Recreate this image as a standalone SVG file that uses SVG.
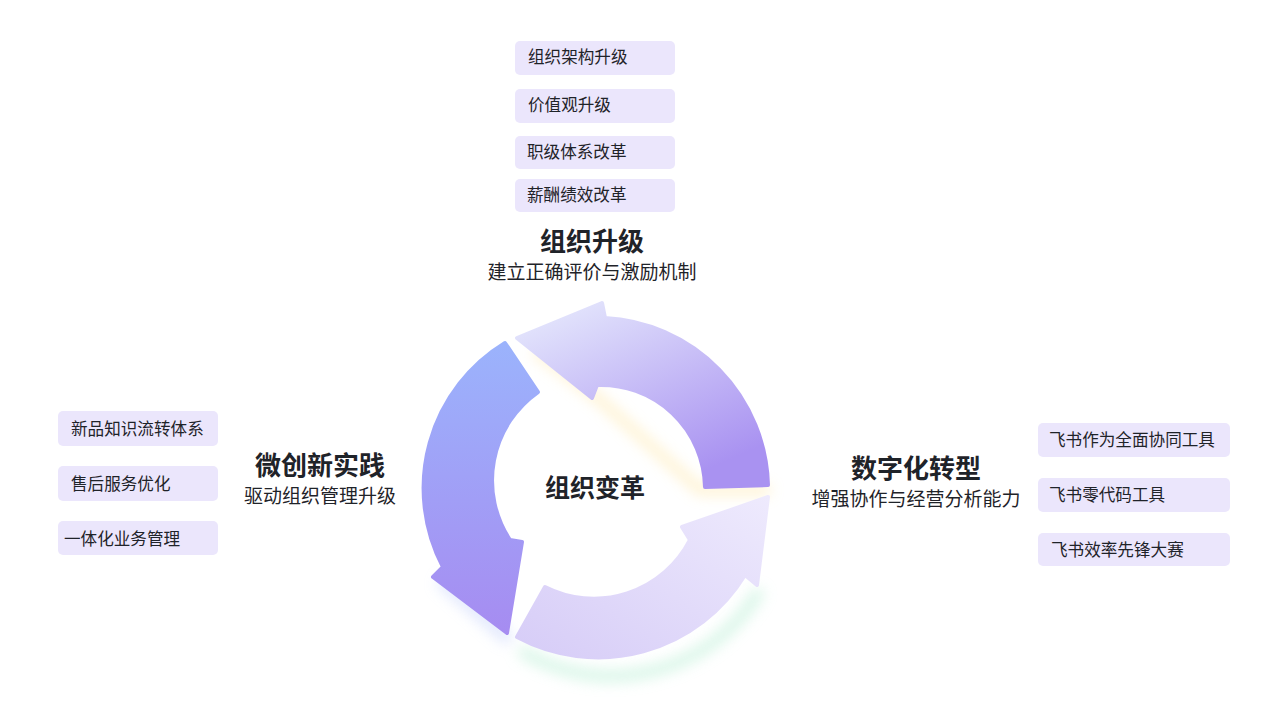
<svg xmlns="http://www.w3.org/2000/svg" width="1280" height="713" viewBox="0 0 1280 713">
<style>
.box{fill:#ebe6fc}
.t{font-family:"Noto Sans CJK SC",sans-serif;font-size:16.6px;fill:#1f2329}
.h{font-family:"Noto Sans CJK SC",sans-serif;font-size:26px;font-weight:bold;fill:#1f2329;text-anchor:middle}
.c{font-family:"Noto Sans CJK SC",sans-serif;font-size:25px;font-weight:bold;fill:#1f2329;text-anchor:middle}
.s{font-family:"Noto Sans CJK SC",sans-serif;font-size:19px;fill:#1f2329;text-anchor:middle}
</style>
<defs>
<linearGradient id="gl" x1="0" y1="0" x2="0" y2="1"><stop offset="0" stop-color="#9bb3fc"/><stop offset="1" stop-color="#a68cf1"/></linearGradient>
<linearGradient id="gt" x1="0" y1="0" x2="0.6" y2="1"><stop offset="0" stop-color="#e9edfd"/><stop offset="1" stop-color="#a992f1"/></linearGradient>
<linearGradient id="gb" x1="0" y1="1" x2="1" y2="0"><stop offset="0" stop-color="#d6ccf7"/><stop offset="1" stop-color="#eeeafd"/></linearGradient>
<filter id="blur" x="-20%" y="-20%" width="140%" height="140%"><feGaussianBlur stdDeviation="7"/></filter>
</defs>
<rect width="1280" height="713" fill="#fff"/>
<g id="glow" filter="url(#blur)" opacity="0.6">
<path d="M535,350 L600,400 L700,490 L770,490" fill="none" stroke="#ffe9b0" stroke-width="10"/>
<path d="M520,650 A172 172 0 0 0 760,590" fill="none" stroke="#bff0d8" stroke-width="12"/>
<path d="M440,580 L510,640" fill="none" stroke="#c8d4fb" stroke-width="12"/>
</g>
<g id="connectors">
<path id="arrow-left" d="M505,343 A170 170 0 0 0 443,567 L433,577 L507,633 L522,542 L510,540 A108 108 0 0 1 538,392 Z" fill="url(#gl)" stroke="url(#gl)" stroke-width="4" stroke-linejoin="round"/>
<path id="arrow-top" d="M768,485 A172 172 0 0 0 605,318 L602,303 L517,338 L592,398 L597,385 A104 104 0 0 1 705,487 Z" fill="url(#gt)" stroke="url(#gt)" stroke-width="4" stroke-linejoin="round"/>
<path id="arrow-bottom" d="M517,637 A172 172 0 0 0 745,575 L757,585 L768,497 L682,527 L690,540 A108 108 0 0 1 545,587 Z" fill="url(#gb)" stroke="url(#gb)" stroke-width="4" stroke-linejoin="round"/>
</g>
<g id="center"><text class="c" x="595" y="497">组织变革</text></g>
<g id="org">
<text class="h" x="592" y="251">组织升级</text>
<text class="s" x="592" y="279">建立正确评价与激励机制</text>
<rect class="box" x="515" y="41" width="160" height="34" rx="5"/><text class="t" x="528" y="63">组织架构升级</text>
<rect class="box" x="515" y="89" width="160" height="34" rx="5"/><text class="t" x="528" y="111">价值观升级</text>
<rect class="box" x="515" y="136" width="160" height="33" rx="5"/><text class="t" x="527" y="158">职级体系改革</text>
<rect class="box" x="515" y="179" width="160" height="33" rx="5"/><text class="t" x="527" y="201">薪酬绩效改革</text>
</g>
<g id="micro">
<text class="h" x="320" y="475">微创新实践</text>
<text class="s" x="320" y="503">驱动组织管理升级</text>
<rect class="box" x="58" y="411" width="160" height="35" rx="5"/><text class="t" x="71" y="435">新品知识流转体系</text>
<rect class="box" x="58" y="466" width="160" height="35" rx="5"/><text class="t" x="71" y="490">售后服务优化</text>
<rect class="box" x="58" y="521" width="160" height="34" rx="5"/><text class="t" x="64" y="545">一体化业务管理</text>
</g>
<g id="digital">
<text class="h" x="916" y="478">数字化转型</text>
<text class="s" x="916" y="506">增强协作与经营分析能力</text>
<rect class="box" x="1038" y="423" width="192" height="34" rx="5"/><text class="t" x="1049" y="446">飞书作为全面协同工具</text>
<rect class="box" x="1038" y="478" width="192" height="34" rx="5"/><text class="t" x="1049" y="501">飞书零代码工具</text>
<rect class="box" x="1038" y="533" width="192" height="33" rx="5"/><text class="t" x="1051" y="556">飞书效率先锋大赛</text>
</g>
</svg>
